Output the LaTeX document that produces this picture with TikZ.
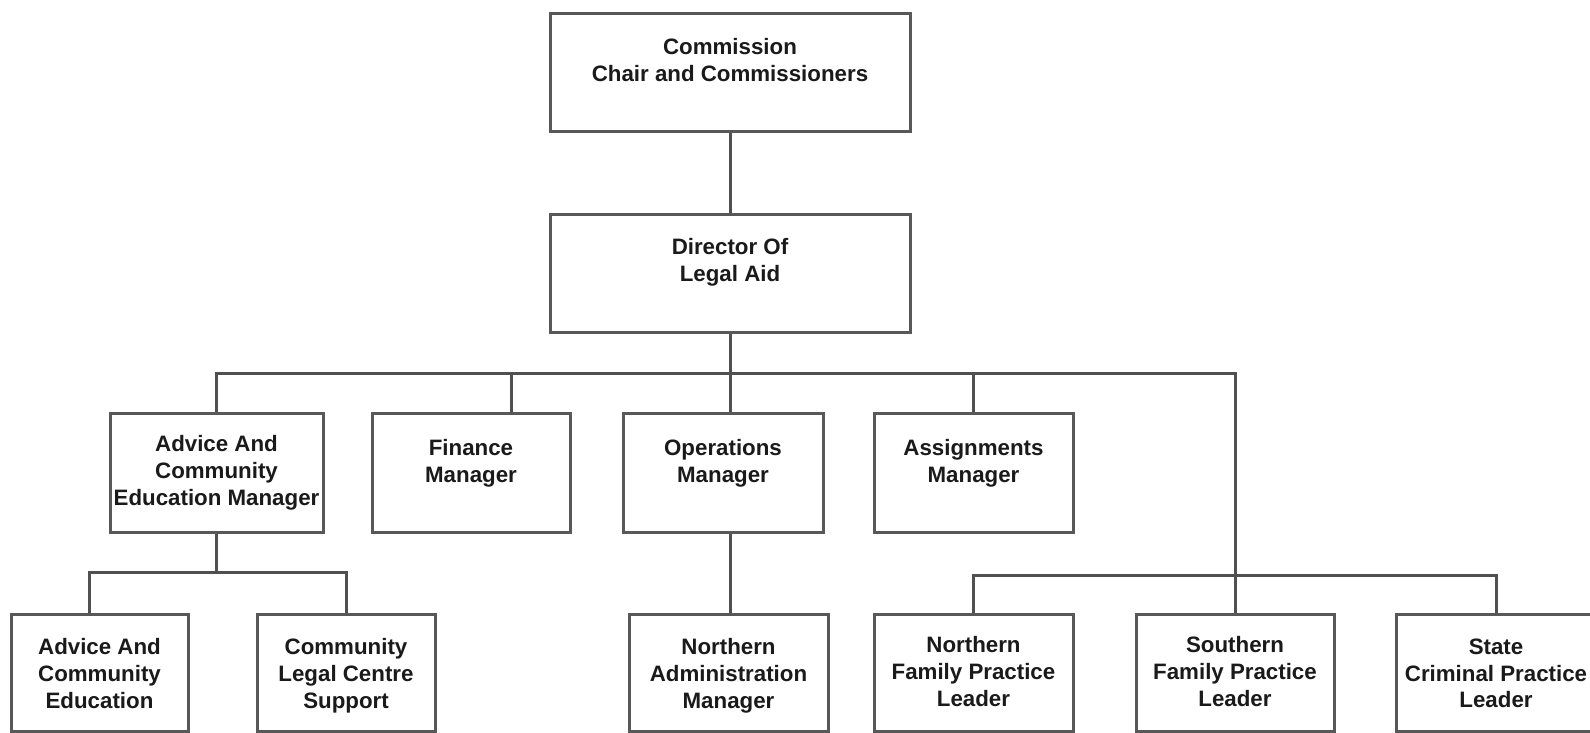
\documentclass[tikz,border=0pt]{standalone}
\usepackage{fontspec}
\setmainfont{Liberation Sans}
\definecolor{boxline}{HTML}{585858}
\definecolor{connline}{HTML}{505050}
\definecolor{txtcol}{HTML}{1A1A1A}
\begin{document}
\begin{tikzpicture}[x=1pt,y=-1pt,
  box/.style={draw=boxline, line width=3pt, fill=white, inner sep=0pt},
  txt/.style={anchor=north, align=center, inner sep=0pt, text=txtcol,
    font=\fontsize{22.3}{26.8}\selectfont\bfseries},
  conn/.style={draw=connline, line width=3pt}]
\useasboundingbox (0,0) rectangle (1590,732);

% level 0 / 1
\node[box, minimum width=360, minimum height=118,
  label={[txt, yshift=-27pt]north:{Commission\\Chair and Commissioners}}] (comm) at (730,72) {};
\node[box, minimum width=360, minimum height=118,
  label={[txt, yshift=-26pt]north:{Director Of\\Legal Aid}}] (dir) at (730,273) {};

% level 2
\node[box, minimum width=213, minimum height=119,
  label={[txt, yshift=-24pt]north:{Advice And\\Community\\Education Manager}}] (acem) at (216.5,472.5) {};
\node[box, minimum width=198, minimum height=119,
  label={[txt, yshift=-28pt]north:{Finance\\Manager}}] (fin) at (471,472.5) {};
\node[box, minimum width=200, minimum height=119,
  label={[txt, yshift=-28pt]north:{Operations\\Manager}}] (ops) at (723,472.5) {};
\node[box, minimum width=199, minimum height=119,
  label={[txt, yshift=-28pt]north:{Assignments\\Manager}}] (asg) at (973.5,472.5) {};

% level 3
\node[box, minimum width=177, minimum height=117,
  label={[txt, yshift=-26pt]north:{Advice And\\Community\\Education}}] (ace) at (99.5,672.5) {};
\node[box, minimum width=178, minimum height=117,
  label={[txt, yshift=-26pt]north:{Community\\Legal Centre\\Support}}] (clcs) at (346,672.5) {};
\node[box, minimum width=199, minimum height=117,
  label={[txt, yshift=-26pt]north:{Northern\\Administration\\Manager}}] (nam) at (728.5,672.5) {};
\node[box, minimum width=199, minimum height=117,
  label={[txt, yshift=-24pt]north:{Northern\\Family Practice\\Leader}}] (nfpl) at (973.5,672.5) {};
\node[box, minimum width=198, minimum height=117,
  label={[txt, yshift=-24pt]north:{Southern\\Family Practice\\Leader}}] (sfpl) at (1235,672.5) {};
\node[box, minimum width=200, minimum height=117,
  label={[txt, yshift=-26pt]north:{State\\Criminal Practice\\Leader}}] (scpl) at (1496,672.5) {};

% connectors
\coordinate (b1) at (730,373);
\coordinate (b2) at (1235,575);
\coordinate (b3) at (216.5,572);
\coordinate (fintop) at (511,413);
\coordinate (acetop) at (89,614);

\draw[conn] (comm.south) -- (dir.north);
\draw[conn] (dir.south) -- (b1);
\draw[conn] (acem.north) |- (b1) -| (sfpl.north);
\draw[conn] (fintop) -- (fintop |- b1);
\draw[conn] (b1) -- (b1 |- ops.north);
\draw[conn] (b1 |- ops.south) -- (b1 |- nam.north);
\draw[conn] (asg.north) -- (asg.north |- b1);
\draw[conn] (nfpl.north) |- (b2) -| (scpl.north);
\draw[conn] (acem.south) -- (b3);
\draw[conn] (acetop) |- (b3) -| (clcs.north);
\end{tikzpicture}
\end{document}
